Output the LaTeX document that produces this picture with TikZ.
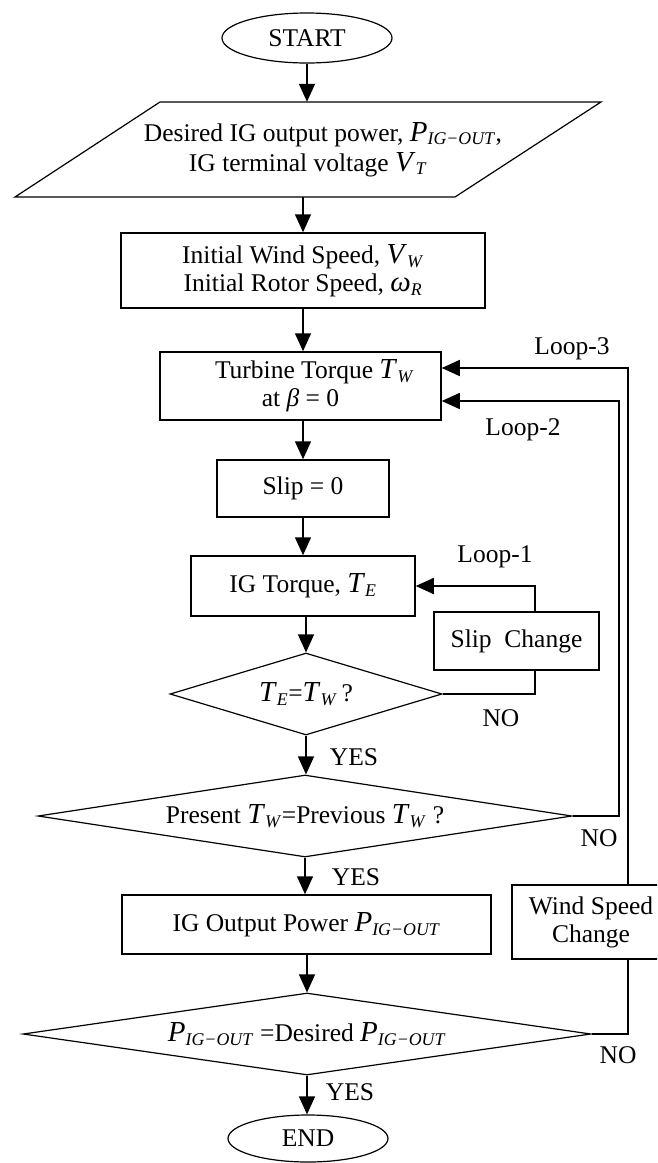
\documentclass[tikz,border=0pt]{standalone}
\usepackage{fontspec}
\setmainfont{Liberation Serif}
\usetikzlibrary{arrows.meta,shapes.geometric}
\newcommand{\vsub}[2]{{\fontsize{29}{28}\selectfont\textit{#1}}\textsubscript{\textit{#2}}}
\begin{document}
\begin{tikzpicture}[x=1pt,y=-1pt,
  font=\fontsize{25.5}{28}\selectfont,
  box/.style={draw, line width=1.5pt, align=center, inner sep=0pt},
  term/.style={ellipse, draw, line width=1.2pt, inner sep=0pt},
  dec/.style={diamond, draw, line width=1.2pt, inner sep=0pt},
  lbl/.style={inner sep=0pt},
  arr/.style={line width=1.5pt, -{Triangle[length=18pt,width=16pt]}},
  ln/.style={line width=1.5pt}]
\useasboundingbox (0,0) rectangle (657,1163);
\clip (0,0) rectangle (657,1163);
\fill[white] (0,0) rectangle (657,1163);

\node[term, minimum width=170pt, minimum height=50pt] (start) at (307,38) {START};

\draw[line width=1.2pt] (160,102) -- (601,102) -- (455,197) -- (15,197) -- cycle;
\node[align=center, minimum width=440pt, minimum height=95pt, inner sep=0pt] (inp) at (308,149.5)
  {\hspace*{30pt}Desired IG output power, \vsub{P}{IG−OUT},\\[2pt] IG terminal voltage \vsub{V}{T}};

\node[box, minimum width=364pt, minimum height=75pt] (initbox) at (303,270.5)
  {Initial Wind Speed, \vsub{V}{W}\\ Initial Rotor Speed, \vsub{ω}{R}};

\node[box, minimum width=281pt, minimum height=68pt] (turbine) at (300.5,386)
  {\hspace*{28pt}Turbine Torque \vsub{T}{W}\\ at \textit{β} = 0};

\node[box, minimum width=172pt, minimum height=57pt] (slip0) at (303,488.5) {Slip = 0};

\node[box, minimum width=224pt, minimum height=60pt] (igt) at (303,586) {IG Torque, \vsub{T}{E}};

\node[box, minimum width=165pt, minimum height=58pt] (slipch) at (516.5,641) {Slip\ \ Change};

\node[dec, minimum width=272pt, minimum height=82pt] (d1) at (306,694) {};
\node[lbl] (d1t) at (d1) {\vsub{T}{E}=\vsub{T}{W}\,?};

\node[dec, minimum width=534pt, minimum height=82pt] (d2) at (305,816) {};
\node[lbl] (d2t) at (d2) {Present \vsub{T}{W}=Previous \vsub{T}{W} ?};

\node[box, minimum width=369pt, minimum height=59pt] (igout) at (306.5,924.5) {IG Output Power \vsub{P}{IG−OUT}};

\node[dec, minimum width=568pt, minimum height=82pt] (d3) at (307,1034) {};
\node[lbl] (d3t) at (d3) {\vsub{P}{IG−OUT} =Desired \vsub{P}{IG−OUT}};

\node[box, minimum width=158pt, minimum height=74pt] (windch) at (591,922) {Wind Speed\\Change};

\node[term, minimum width=160pt, minimum height=47pt] (end) at (308,1138.5) {END};

% main flow
\draw[arr] (start.south) -- (start.south |- inp.north);
\draw[arr] (initbox.north |- inp.south) -- (initbox.north);
\draw[arr] (initbox.south) -- (initbox.south |- turbine.north);
\draw[arr] (slip0.north |- turbine.south) -- (slip0.north);
\draw[arr] (slip0.south) -- (slip0.south |- igt.north);
\draw[arr] (d1.north |- igt.south) -- (d1.north);
\draw[arr] (d1.south) -- (d1.south |- d2.north);
\draw[arr] (d2.south) -- (d2.south |- igout.north);
\draw[arr] (d3.north |- igout.south) -- (d3.north);
\draw[arr] (d3.south) -- (d3.south |- end.north);

% loops
\coordinate (l1x) at (535,0);
\coordinate (l2x) at (619,0);
\coordinate (l3x) at (628,0);
\draw[ln] (d1.east) -| (l1x |- slipch.south);
\draw[arr] (l1x |- slipch.north) |- (igt.east);
\draw[arr] (d2.east) -| (l2x |- turbine.south) |- ([yshift=-15pt]turbine.east);
\draw[ln] (d3.east) -| (l3x |- windch.south);
\draw[arr] (l3x |- windch.north) |- ([yshift=18pt]turbine.east);

% labels
\node[lbl] (lp1) at (495,557) {Loop-1};
\node[lbl] (lp2) at (523,430) {Loop-2};
\node[lbl] (lp3) at (572,349) {Loop-3};
\node[lbl] (no1) at (501,718) {NO};
\node[lbl] (no2) at (599,838) {NO};
\node[lbl] (no3) at (618,1055) {NO};
\node[lbl] (yes1) at (354,757) {YES};
\node[lbl] (yes2) at (356,877) {YES};
\node[lbl] (yes3) at (350,1092) {YES};
\end{tikzpicture}
\end{document}
